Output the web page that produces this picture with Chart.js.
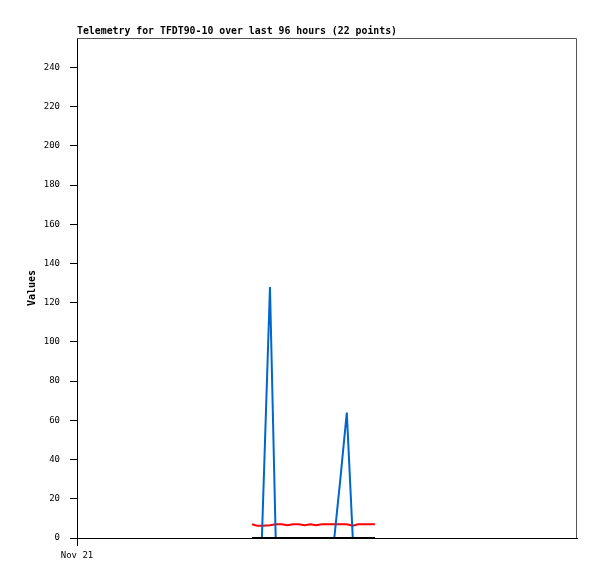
<!DOCTYPE html>
<html lang="en">
    <head>
        <meta charset="UTF-8">
        <title>Telemetry for TFDT90-10</title>
        <style>
            body{ margin:0; background:#fff; }
            #wrap{ width:597px; height:579px; }
        </style>
    </head>
    <body>
        <div id="wrap">
            <canvas id="telemetry" width="597" height="579"></canvas>
        </div>

        <script src="https://cdn.jsdelivr.net/npm/chart.js"></script>
        <script>

var titleText = 'Telemetry for TFDT90-10 over last 96 hours (22 points)';
var yTitle = 'Values';
var xTickLabels = ['Nov 21'];//only tick on the time axis, at hour 0

// hours since Nov 21 00:00 for each of the 22 points
var hours = [33.6, 34.6, 35.5, 37.05, 38.15, 39.3, 40.4, 41.5, 42.6, 43.7, 44.8,
             45.9, 47.0, 48.2, 49.4, 50.6, 51.8, 52.95, 54.0, 55.1, 56.1, 57.2];
var blueVals = [0, 0, 0, 128, 0, 0, 0, 0, 0, 0, 0,
                0, 0, 0, 0, 31, 64, 0, 0, 0, 0, 0];
var redVals  = [7.0, 6.2, 6.2, 6.5, 7.0, 7.0, 6.5, 7.0, 7.0, 6.5, 7.0,
                6.5, 7.0, 7.0, 7.0, 7.0, 7.0, 6.3, 7.0, 7.0, 7.0, 7.0];
var blackVals = [0, 0, 0, 0, 0, 0, 0, 0, 0, 0, 0,
                 0, 0, 0, 0, 0, 0, 0, 0, 0, 0, 0];

function pts(vals){//pair the hours with a series
    return vals.map(function(v, i){ return {x: hours[i], y: v}; });
}

var frame = {//gray box round the plot + title in the top left
    id: 'frame',
    beforeDatasetsDraw: function(chart){
        var a = chart.chartArea;
        var ctx = chart.ctx;
        ctx.save();
        ctx.strokeStyle = '#555';
        ctx.lineWidth = 1;
        ctx.beginPath();
        ctx.moveTo(a.left, a.top + 0.5);
        ctx.lineTo(a.right - 0.5, a.top + 0.5);
        ctx.lineTo(a.right - 0.5, a.bottom);
        ctx.stroke();
        ctx.restore();
    },
    afterDraw: function(chart){
        var ctx = chart.ctx;
        ctx.save();
        ctx.fillStyle = '#000';
        ctx.font = 'bold 9.85px "DejaVu Sans Mono"';
        ctx.textBaseline = 'alphabetic';
        ctx.textAlign = 'left';
        ctx.fillText(titleText, chart.chartArea.left, 34);
        ctx.restore();
    }
};

var ctx = document.getElementById('telemetry').getContext('2d');
var chart = new Chart(ctx, {
    type: 'line',
    data: {
        datasets: [
            {label: 'blue', data: pts(blueVals), borderColor: '#0066cc', borderWidth: 2, order: 2},
            {label: 'red', data: pts(redVals), borderColor: '#ff0000', borderWidth: 2, order: 3},
            {label: 'black', data: pts(blackVals), borderColor: '#000000', borderWidth: 2, order: 1}
        ]
    },
    options: {
        responsive: false,
        animation: false,
        elements: {
            point: { radius: 0 },
            line: { tension: 0, fill: false }
        },
        layout: { padding: { left: 0, right: 20, top: 38, bottom: 0 } },
        plugins: {
            legend: { display: false },
            tooltip: { enabled: false },
            title: { display: false }
        },
        scales: {
            x: {
                type: 'linear',
                min: 0,
                max: 96,
                afterBuildTicks: function(scale){
                    scale.ticks = [{value: 0}];
                },
                afterFit: function(scale){ scale.height = 41; },
                grid: {
                    drawOnChartArea: false,
                    drawTicks: true,
                    tickLength: 8,
                    color: '#000'
                },
                border: { display: true, color: '#000', width: 1 },
                ticks: {
                    padding: 4,
                    maxRotation: 0,
                    color: '#000',
                    font: { family: '"DejaVu Sans Mono"', size: 9 },
                    callback: function(v, i){ return xTickLabels[i]; }
                }
            },
            y: {
                min: 0,
                max: 255,
                afterFit: function(scale){ scale.width = 77; },
                grid: {
                    drawOnChartArea: false,
                    drawTicks: true,
                    tickLength: 7,
                    color: '#000'
                },
                border: { display: true, color: '#000', width: 1 },
                ticks: {
                    stepSize: 20,
                    includeBounds: false,
                    padding: 10,
                    color: '#000',
                    font: { family: '"DejaVu Sans Mono"', size: 9 }
                },
                title: {
                    display: true,
                    text: yTitle,
                    color: '#000',
                    padding: { top: 26, bottom: 0 },
                    font: { family: '"DejaVu Sans Mono"', size: 10, weight: 'bold' }
                }
            }
        }
    },
    plugins: [frame]
});
        </script>
    </body>
</html>
